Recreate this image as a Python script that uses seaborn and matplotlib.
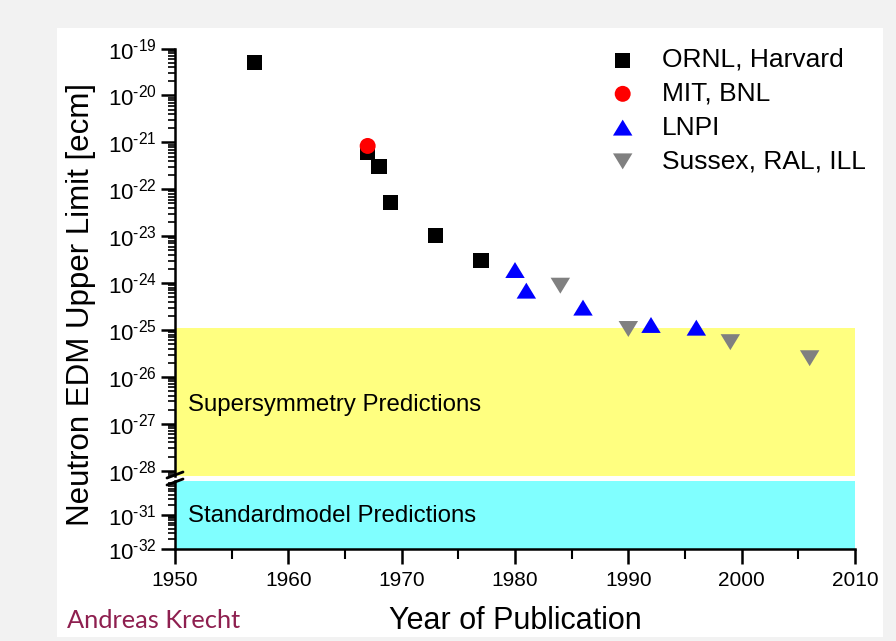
import matplotlib
matplotlib.use("Agg")
import matplotlib.pyplot as plt
import matplotlib.ticker as mticker
from matplotlib.patches import Rectangle
from matplotlib.lines import Line2D
import numpy as np
import pandas as pd
import seaborn as sns

# ---- data: neutron EDM upper limits by year of publication ----
ornl_years = [1957, 1967, 1968, 1969, 1973, 1977]
ornl_limits = [5.1e-20, 6.2e-22, 3.1e-22, 5.2e-23, 1.05e-23, 3.1e-24]

mit_years = [1967]
mit_limits = [8.4e-22]

lnpi_years = [1980, 1981, 1986, 1992, 1996]
lnpi_limits = [1.9e-24, 6.9e-25, 3.0e-25, 1.28e-25, 1.12e-25]

ill_years = [1984, 1990, 1999, 2006]
ill_limits = [8.8e-25, 1.05e-25, 5.5e-26, 2.5e-26]

group_labels = ["ORNL, Harvard", "MIT, BNL", "LNPI", "Sussex, RAL, ILL"]

# theory bands
susy_upper = 1.1e-25
sm_upper = 1e-30

# axis ranges
year_range = (1950, 2010)
upper_range = (7.7e-29, 1e-19)
lower_range = (1e-32, 1e-30)
upper_decades = list(range(-28, -18))
lower_decades = [-32, -31]

sns.set_theme(style="ticks", rc={
    "axes.edgecolor": "black",
    "xtick.color": "black",
    "ytick.color": "black",
    "text.color": "black",
    "axes.labelcolor": "black",
})
plt.rcParams["font.family"] = ["Liberation Sans", "DejaVu Sans"]
plt.rcParams["mathtext.fontset"] = "custom"
plt.rcParams["mathtext.rm"] = "Liberation Sans"
plt.rcParams["mathtext.it"] = "Liberation Sans:italic"
plt.rcParams["mathtext.bf"] = "Liberation Sans:bold"

W, H = 896, 641
fig = plt.figure(figsize=(W / 100, H / 100), dpi=100, facecolor="#f2f2f2")
fig.patches.append(Rectangle((57 / W, 1 - 637 / H), (883 - 57) / W, (637 - 28) / H,
                             transform=fig.transFigure, facecolor="white",
                             edgecolor="none", zorder=-10))


def fy(py):
    return 1 - py / H


left, right = 175, 855
top_t, top_b = 48.6, 476
bot_t, bot_b = 481, 549

ax_top = fig.add_axes([left / W, fy(top_b), (right - left) / W, (top_b - top_t) / H])
ax_bot = fig.add_axes([left / W, fy(bot_b), (right - left) / W, (bot_b - bot_t) / H])

for ax in (ax_top, ax_bot):
    ax.set_facecolor("none")
    ax.set_yscale("log")
    ax.set_xlim(*year_range)

ax_top.set_ylim(*upper_range)
ax_bot.set_ylim(*lower_range)

# prediction bands
ax_top.axhspan(upper_range[0], susy_upper, color="#ffff80", zorder=0.5, lw=0)
ax_bot.axhspan(lower_range[0], sm_upper, color="#80ffff", zorder=0.5, lw=0)

tri_up = [(0, 0.82), (-1, -0.82), (1, -0.82), (0, 0.82)]
tri_down = [(0, -0.82), (-1, 0.82), (1, 0.82), (0, -0.82)]

groups = [
    (ornl_years, ornl_limits, group_labels[0], "s", "black", 117),
    (mit_years, mit_limits, group_labels[1], "o", "#ff0000", 132),
    (lnpi_years, lnpi_limits, group_labels[2], tri_up, "#0000ff", 196),
    (ill_years, ill_limits, group_labels[3], tri_down, "#808080", 196),
]
for yrs, lims, lab, mk, col, size in groups:
    df = pd.DataFrame({"Year": yrs, "Limit": lims})
    sns.scatterplot(data=df, x="Year", y="Limit", marker=mk, color=col, s=size,
                    linewidth=0, edgecolor="none", label=lab, ax=ax_top, zorder=3)

ax_top.set_xlabel("")
ax_top.set_ylabel("")
ax_top.set_ylim(*upper_range)
ax_top.set_xlim(*year_range)

# spines
for sp in ("top", "right", "bottom"):
    ax_top.spines[sp].set_visible(False)
for sp in ("top", "right"):
    ax_bot.spines[sp].set_visible(False)
for ax in (ax_top, ax_bot):
    for sp in ("left", "bottom"):
        ax.spines[sp].set_linewidth(1.8)

# ticks: decade labels written as 10 with a hyphenated exponent
dec_fmt = mticker.FuncFormatter(
    lambda v, p: r"$10^{\text{-%d}}$" % abs(int(round(np.log10(v)))))
ax_top.yaxis.set_major_locator(mticker.FixedLocator([10.0 ** e for e in upper_decades]))
ax_bot.yaxis.set_major_locator(mticker.FixedLocator([10.0 ** e for e in lower_decades]))
for ax in (ax_top, ax_bot):
    ax.yaxis.set_minor_locator(mticker.LogLocator(base=10, subs=np.arange(2, 10), numticks=200))
    ax.yaxis.set_major_formatter(dec_fmt)
    ax.yaxis.set_minor_formatter(mticker.NullFormatter())
    ax.tick_params(axis="y", which="major", direction="out", length=10, width=1.8,
                   labelsize=16, pad=3)
    ax.tick_params(axis="y", which="minor", direction="out", length=5, width=1.2)

ax_top.tick_params(axis="x", which="both", bottom=False, labelbottom=False)
ax_bot.xaxis.set_major_locator(mticker.MultipleLocator(10))
ax_bot.xaxis.set_minor_locator(mticker.MultipleLocator(5))
ax_bot.tick_params(axis="x", which="major", direction="out", length=11, width=1.8,
                   labelsize=15, pad=5)
ax_bot.tick_params(axis="x", which="minor", direction="out", length=7, width=1.5)

# axis break marks on the left spine
for yb in (top_b - 1, bot_t + 1):
    fig.add_artist(Line2D([167 / W, 183 / W], [fy(yb + 3), fy(yb - 3)],
                          transform=fig.transFigure, color="black", lw=2.0))

# labels
ax_bot.set_xlabel("Year of Publication", fontsize=22)
ax_bot.xaxis.set_label_coords(0.5, (bot_b - 621) / (bot_b - bot_t))
ax_bot.xaxis.label.set_va("center")

ax_top.set_ylabel("Neutron EDM Upper Limit [ecm]", fontsize=22.5)
ax_top.yaxis.set_label_coords((81 - left) / (right - left), (top_b - 305) / (top_b - top_t))
ax_top.yaxis.label.set_va("center")
ax_top.yaxis.label.set_ha("center")

ax_top.text(1951.15, 1.9e-27, "Supersymmetry Predictions", fontsize=17.3,
            ha="left", va="baseline", zorder=2)
ax_bot.text(1951.15, 6.2e-32, "Standardmodel Predictions", fontsize=17.3,
            ha="left", va="baseline", zorder=2)

fig.text(67 / W, fy(620), "Andreas Krecht", fontsize=18.3, color="#8e1f4f",
         family=["Lato", "DejaVu Sans"], ha="left", va="center")

# legend
fs = 19
ax_top.legend(loc="upper left", bbox_to_anchor=(609.5 / W, fy(48)),
              bbox_transform=fig.transFigure, frameon=False, fontsize=fs,
              handlelength=1.0, handletextpad=0.98, labelspacing=0.37,
              borderpad=0, borderaxespad=0, scatterpoints=1)

fig.savefig("out.png", dpi=100, facecolor=fig.get_facecolor())
